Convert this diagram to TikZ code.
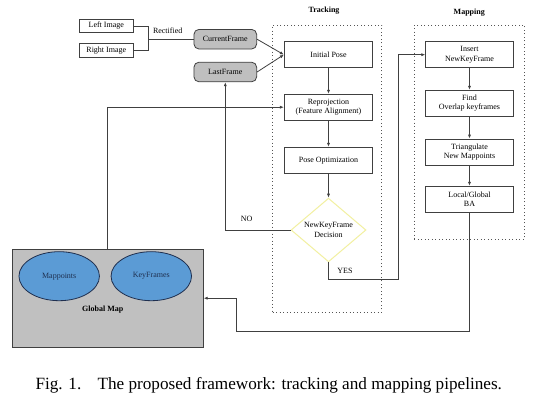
\documentclass[tikz,border=0pt]{standalone}
\usepackage{fontspec}
\setmainfont{Liberation Serif}
\usetikzlibrary{shapes.geometric,arrows.meta,positioning}
\definecolor{lineg}{HTML}{404040}
\definecolor{framegray}{HTML}{BFBFBF}
\definecolor{mapgray}{HTML}{C0C0C0}
\definecolor{ellblue}{HTML}{5B9BD5}
\definecolor{elledge}{HTML}{1F2F4F}
\definecolor{elltext}{HTML}{1F3050}
\definecolor{diayellow}{HTML}{F2F0A0}
\definecolor{dotgray}{HTML}{555555}
\tikzset{
  lbl/.style={font=\fontsize{8}{9.5}\selectfont, align=center},
  stepbox/.style={draw=lineg, line width=0.8pt, fill=white, minimum width=88.4pt, minimum height=26pt, inner sep=1pt, lbl},
  imgbox/.style={draw=lineg, line width=0.8pt, fill=white, minimum width=54pt, minimum height=13.6pt, inner sep=1pt, lbl},
  framebox/.style={draw=lineg, line width=0.8pt, fill=framegray, rounded corners=5pt, minimum width=62.7pt, minimum height=19.6pt, inner sep=1pt, lbl},
  decbox/.style={draw=diayellow, line width=1pt, fill=white, shape=diamond, minimum width=75pt, minimum height=62pt, inner sep=0pt, lbl},
  mapell/.style={draw=elledge, line width=0.8pt, fill=ellblue, shape=ellipse, minimum width=80.5pt, minimum height=49pt, inner sep=0pt, lbl, text=elltext},
  groupbox/.style={draw=dotgray, line width=0.9pt, dash pattern=on 0.9pt off 2.6pt},
  conn/.style={draw=lineg, line width=0.8pt},
  arr/.style={conn, -{Latex[length=4pt,width=3.2pt]}},
  hdr/.style={font=\fontsize{8}{9.5}\selectfont\bfseries},
}
\begin{document}
\begin{tikzpicture}[x=1pt,y=-1pt]
\useasboundingbox[fill=white] (0,0) rectangle (550,408);

% group frames
\node[groupbox, minimum width=109pt, minimum height=287.3pt, inner sep=0pt] (trackgrp) at (327.2,168.65) {};
\node[groupbox, minimum width=110pt, minimum height=214.3pt, inner sep=0pt] (mapgrp) at (469.3,132.15) {};
\node[hdr] (trackhdr) at (324,10.7) {Tracking};
\node[hdr] (maphdr) at (469.3,12.7) {Mapping};

% input
\node[imgbox] (leftimg) at (106.3,26) {Left Image};
\node[imgbox] (rightimg) at (106.3,50.3) {Right Image};
\node[framebox] (curframe) at (225.3,39.2) {CurrentFrame};
\node[framebox] (lastframe) at (225.3,72) {LastFrame};
\coordinate (brk) at (148.7,39.2);
\node[lbl] (rectlbl) at (167.7,31) {Rectified};

% tracking
\node[stepbox] (initpose) at (328.5,54.7) {Initial Pose};
\node[stepbox] (reproj) at (328.5,107.2) {Reprojection\\(Feature Alignment)};
\node[stepbox] (poseopt) at (328.5,160.2) {Pose Optimization};
\node[decbox] (decision) at (328.5,230) {NewKeyFrame\\Decision};

% mapping
\node[stepbox, minimum width=87.6pt] (insertkf) at (469.5,54.7) {Insert\\NewKeyFrame};
\node[stepbox, minimum width=87.6pt] (findov) at (469.5,103.2) {Find\\Overlap keyframes};
\node[stepbox, minimum width=87.6pt] (triang) at (469.5,152) {Triangulate\\New Mappoints};
\node[stepbox, minimum width=87.6pt] (localba) at (469.5,199.2) {Local/Global\\BA};

% global map
\node[draw=lineg, line width=0.8pt, fill=mapgray, minimum width=191pt, minimum height=98.3pt, inner sep=0pt] (globalmap) at (107.8,298.2) {};
\node[mapell] (mappts) at (59.2,276.2) {Mappoints};
\node[mapell] (keyfr) at (151.3,276.2) {KeyFrames};
\node[hdr] (gmlbl) at (102.8,310) {Global Map};

% connectors
\draw[conn] (leftimg.east) -| (brk) |- (rightimg.east);
\draw[conn] (brk) -- (curframe.west);
\draw[arr] (curframe.east) -- (initpose.west);
\draw[arr] (lastframe.east) -- (initpose.west);
\draw[arr] (initpose) -- (reproj);
\draw[arr] (reproj) -- (poseopt);
\draw[arr] (poseopt) -- (decision.north);
\draw[arr] (globalmap.north) |- (reproj.west);
\draw[arr] (decision.west) -| (lastframe.south);
\node[lbl] (nolbl) at (246.7,219) {NO};
\coordinate (yes1) at (328.5,279);
\coordinate (yes2) at (398.3,279);
\draw[arr] (decision.south) -- (yes1) -- (yes2) |- (insertkf.west);
\node[lbl] (yeslbl) at (345,270.7) {YES};
\draw[arr] (insertkf) -- (findov);
\draw[arr] (findov) -- (triang);
\draw[arr] (triang) -- (localba);
\coordinate (ba1) at (469.5,331);
\coordinate (ba2) at (236.7,331);
\draw[arr] (localba.south) -- (ba1) -- (ba2) |- (globalmap.east);

% caption
\node[anchor=west, inner sep=0pt] (caption) at (35.3,385) {\resizebox{466.5pt}{!}{\fontsize{10}{12}\selectfont Fig. 1.\hspace{0.95em}The proposed framework: tracking and mapping pipelines.}};
\end{tikzpicture}
\end{document}
